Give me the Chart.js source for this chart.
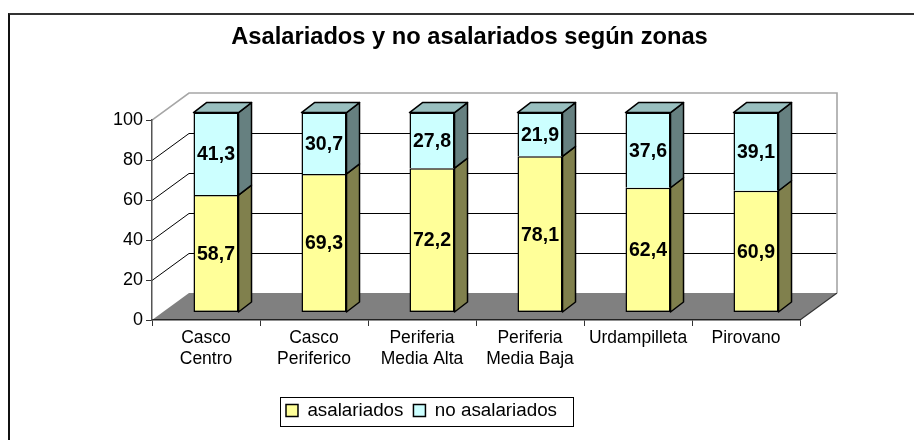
<!DOCTYPE html>
<html>
<head>
<meta charset="utf-8">
<script src="https://cdn.jsdelivr.net/npm/chart.js@4.4.1/dist/chart.umd.min.js"></script>
<style>
body { margin: 0; background: #fff; overflow: hidden; }
#frame { position: absolute; left: 8px; top: 13px; width: 1000px; height: 1000px; border-top: 2px solid #333; border-left: 2px solid #111; }
canvas { position: absolute; left: 0; top: 0; }
</style>
</head>
<body>
<div id="frame"></div>
<canvas id="myChart" width="914" height="440"></canvas>
<script>
// data
var zonas = [['Casco', 'Centro'], ['Casco', 'Periferico'], ['Periferia', 'Media Alta'], ['Periferia', 'Media Baja'], 'Urdampilleta', 'Pirovano'];
var asalariados = [58.7, 69.3, 72.2, 78.1, 62.4, 60.9];
var noAsalariados = [41.3, 30.7, 27.8, 21.9, 37.6, 39.1];
var yTicks = [0, 20, 40, 60, 80, 100];

// 3d look
var depth = { x: 37, y: -27 };
var barShift = { x: 10, y: -7.5 };
var barDepth = { x: 13, y: -10 };
var legendFont = 18.8;

Chart.defaults.font.family = '"Liberation Sans", Arial, sans-serif';
Chart.defaults.color = '#000';

function shade(hex, k) {
	var n = parseInt(hex.slice(1), 16);
	var r = Math.round(((n >> 16) & 255) * k), g = Math.round(((n >> 8) & 255) * k), b = Math.round((n & 255) * k);
	return 'rgb(' + r + ',' + g + ',' + b + ')';
}

function poly(ctx, pts) {
	ctx.beginPath();
	ctx.moveTo(pts[0][0], pts[0][1]);
	for (var i = 1; i < pts.length; i++) ctx.lineTo(pts[i][0], pts[i][1]);
	ctx.closePath();
}

var box3d = {
	id: 'box3d',
	afterLayout: function (chart) {
		// title sits centred over the whole picture, not over the legend box
		chart.titleBlock.left += 48;
		chart.titleBlock.right += 48;
	},
	beforeDraw: function (chart) {
		var ctx = chart.ctx, a = chart.chartArea, ys = chart.scales.y;
		var y0 = ys.getPixelForValue(yTicks[0]), yTop = ys.getPixelForValue(yTicks[yTicks.length - 1]);
		ctx.save();
		// floor
		ctx.fillStyle = '#808080';
		poly(ctx, [[a.left, y0], [a.right, y0], [a.right + depth.x, y0 + depth.y], [a.left + depth.x, y0 + depth.y]]);
		ctx.fill();
		ctx.strokeStyle = '#333';
		ctx.lineWidth = 1.2;
		ctx.beginPath();
		ctx.moveTo(a.right, y0);
		ctx.lineTo(a.right + depth.x, y0 + depth.y);
		ctx.stroke();
		// grid on side and back wall
		ctx.strokeStyle = '#000';
		ctx.lineWidth = 1;
		yTicks.slice(1, -1).forEach(function (v) {
			var p = Math.round(ys.getPixelForValue(v)) + 0.5;
			ctx.beginPath();
			ctx.moveTo(a.left, p);
			ctx.lineTo(a.left + depth.x, p + depth.y);
			ctx.lineTo(a.right + depth.x, p + depth.y);
			ctx.stroke();
		});
		// wall edges
		ctx.strokeStyle = '#a6a6a6';
		ctx.lineWidth = 1.6;
		ctx.beginPath();
		ctx.moveTo(a.left, yTop);
		ctx.lineTo(a.left + depth.x, yTop + depth.y);
		ctx.lineTo(a.right + depth.x, yTop + depth.y);
		ctx.lineTo(a.right + depth.x, y0 + depth.y);
		ctx.stroke();
		ctx.restore();
	},
	beforeDatasetsDraw: function (chart) {
		chart.ctx.save();
		chart.ctx.translate(barShift.x, barShift.y);
	},
	afterDatasetsDraw: function (chart) {
		var ctx = chart.ctx;
		ctx.restore();
		var sets = chart.data.datasets;
		ctx.save();
		ctx.lineWidth = 1.5;
		ctx.strokeStyle = '#000';
		ctx.lineJoin = 'round';
		for (var i = 0; i < chart.data.labels.length; i++) {
			for (var d = 0; d < sets.length; d++) {
				var el = chart.getDatasetMeta(d).data[i].getProps(['x', 'y', 'base', 'width'], true);
				var l = el.x - el.width / 2 + barShift.x, r = el.x + el.width / 2 + barShift.x;
				var t = Math.min(el.y, el.base) + barShift.y, b = Math.max(el.y, el.base) + barShift.y;
				ctx.fillStyle = shade(sets[d].backgroundColor, 0.5);
				poly(ctx, [[r, t], [r + barDepth.x, t + barDepth.y], [r + barDepth.x, b + barDepth.y], [r, b]]);
				ctx.fill();
				ctx.stroke();
				if (d === sets.length - 1) {
					ctx.fillStyle = shade(sets[d].backgroundColor, 0.75);
					poly(ctx, [[l, t], [r, t], [r + barDepth.x, t + barDepth.y], [l + barDepth.x, t + barDepth.y]]);
					ctx.fill();
					ctx.stroke();
				}
			}
		}
		// value labels
		ctx.font = 'bold 19.5px "Liberation Sans", Arial, sans-serif';
		ctx.fillStyle = '#000';
		ctx.textAlign = 'center';
		ctx.textBaseline = 'middle';
		sets.forEach(function (ds, d) {
			chart.getDatasetMeta(d).data.forEach(function (bar, i) {
				var p = bar.getProps(['x', 'y', 'base'], true);
				ctx.fillText(ds.data[i].toFixed(1).replace('.', ','), p.x + barShift.x, (p.y + p.base) / 2 + barShift.y + 1);
			});
		});
		ctx.restore();
	},
	afterDraw: function (chart) {
		// box round the legend
		var lg = chart.legend, ctx = chart.ctx;
		var pad = lg.options.labels.padding;
		var lw = lg.lineWidths[0];
		var x0 = (lg.left + pad + lg.right - lw) / 2;
		var cy = lg.top + pad + legendFont / 2;
		ctx.save();
		ctx.strokeStyle = '#000';
		ctx.lineWidth = 1;
		ctx.strokeRect(Math.round(x0 - 6) + 0.5, Math.round(cy - 14) + 0.5, Math.round(lw - pad + 22), 29);
		ctx.restore();
	}
};

var ctx = document.getElementById('myChart').getContext('2d');
var chart = new Chart(ctx, {
	type: 'bar',
	data: {
		labels: zonas,
		datasets: [{
			label: 'asalariados',
			data: asalariados,
			backgroundColor: '#FFFF99',
			borderColor: '#000',
			borderWidth: 1.5,
			borderSkipped: false,
			clip: false
		},
		{
			label: 'no asalariados',
			data: noAsalariados,
			backgroundColor: '#CCFFFF',
			borderColor: '#000',
			borderWidth: 1.5,
			borderSkipped: 'start',
			clip: false
		}]
	},
	options: {
		responsive: false,
		animation: false,
		devicePixelRatio: 1,
		layout: { padding: { left: 0, right: 71, top: 0, bottom: 10 } },
		datasets: { bar: { barPercentage: 0.417, categoryPercentage: 1 } },
		scales: {
			x: {
				stacked: true,
				grid: { offset: true, drawOnChartArea: false, drawTicks: true, tickLength: 6, color: '#333' },
				border: { color: '#222', width: 1.5 },
				ticks: { font: { size: 17.5 }, padding: 2, maxRotation: 0, autoSkip: false },
				afterFit: function (s) { s.height = 71.2; }
			},
			y: {
				stacked: true,
				min: yTicks[0],
				max: yTicks[yTicks.length - 1],
				ticks: { stepSize: 20, font: { size: 18 }, padding: 3 },
				grid: { drawOnChartArea: false, drawTicks: true, tickLength: 6, color: '#333' },
				border: { color: '#555', width: 1.5 },
				afterFit: function (s) { s.width = 152; }
			},
			yRight: {
				position: 'right',
				display: true,
				ticks: { display: false },
				grid: { display: false },
				border: { display: false },
				afterFit: function (s) { s.width = 43; }
			}
		},
		plugins: {
			title: {
				display: true,
				text: 'Asalariados y no asalariados según zonas',
				font: { size: 23.7, weight: 'bold' },
				padding: { top: 23, bottom: 68.6 }
			},
			legend: {
				position: 'bottom',
				labels: { boxWidth: 12, boxHeight: 12, padding: 10, font: { size: legendFont } }
			},
			tooltip: { enabled: false }
		}
	},
	plugins: [box3d]
});
</script>
</body>
</html>
